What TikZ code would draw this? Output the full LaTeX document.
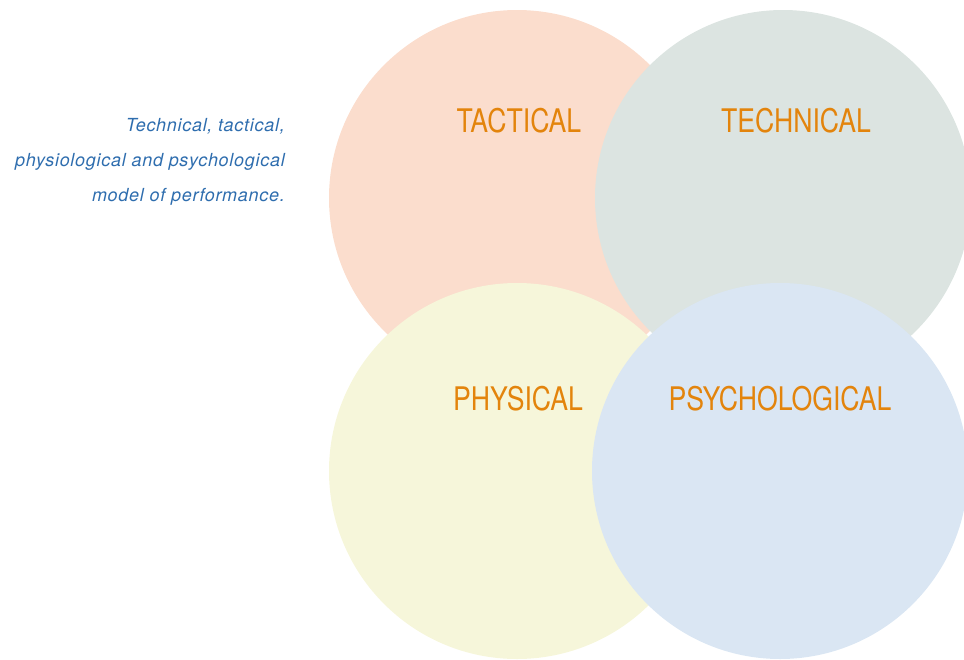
\documentclass[tikz,border=0pt]{standalone}
\usepackage{fontspec}
\usepackage{xcolor}
\usetikzlibrary{positioning}
\setmainfont{TeX Gyre Heros}
\newfontfamily\areafont[FakeStretch=0.82]{TeX Gyre Heros}
\newfontfamily\notefont[LetterSpace=4]{TeX Gyre Heros}
\definecolor{tacCol}{HTML}{FBDDCD}
\definecolor{tecCol}{HTML}{DCE4E1}
\definecolor{phyCol}{HTML}{F6F6DA}
\definecolor{psyCol}{HTML}{DAE6F3}
\definecolor{labelCol}{HTML}{E3840C}
\definecolor{noteCol}{HTML}{2E6DAE}

\begin{document}
\begin{tikzpicture}[
    x=1pt, y=-1pt,
    area/.style={circle, minimum size=376pt, inner sep=0pt},
    areatext/.style={font=\areafont\fontsize{32.5}{32.5}\selectfont, text=labelCol, inner sep=0pt},
    note/.style={font=\notefont\fontsize{18}{35}\selectfont\itshape, text=noteCol,
      align=right, anchor=east, inner sep=0pt},
  ]
\useasboundingbox (0,0) rectangle (964,659);
\clip (0,0) rectangle (964,659);

% Four overlapping areas, later ones on top
\node[area, fill=tacCol] (tac) at (517,198) {};
\node[area, fill=tecCol] (tec) at (783,198) {};
\node[area, fill=phyCol] (phy) at (517,471) {};
\node[area, fill=psyCol] (psy) at (780,471) {};

% Area names
\node[areatext] (tacname) at (519,121) {TACTICAL};
\node[areatext] (tecname) at (796,121) {TECHNICAL};
\node[areatext] (phyname) at (518,399) {PHYSICAL};
\node[areatext] (psyname) at (780,399) {PSYCHOLOGICAL};

% Caption on the left
\node[note] (caption) at (285,162) {Technical, tactical,\\physiological and psychological\\model of performance.};

\end{tikzpicture}
\end{document}
